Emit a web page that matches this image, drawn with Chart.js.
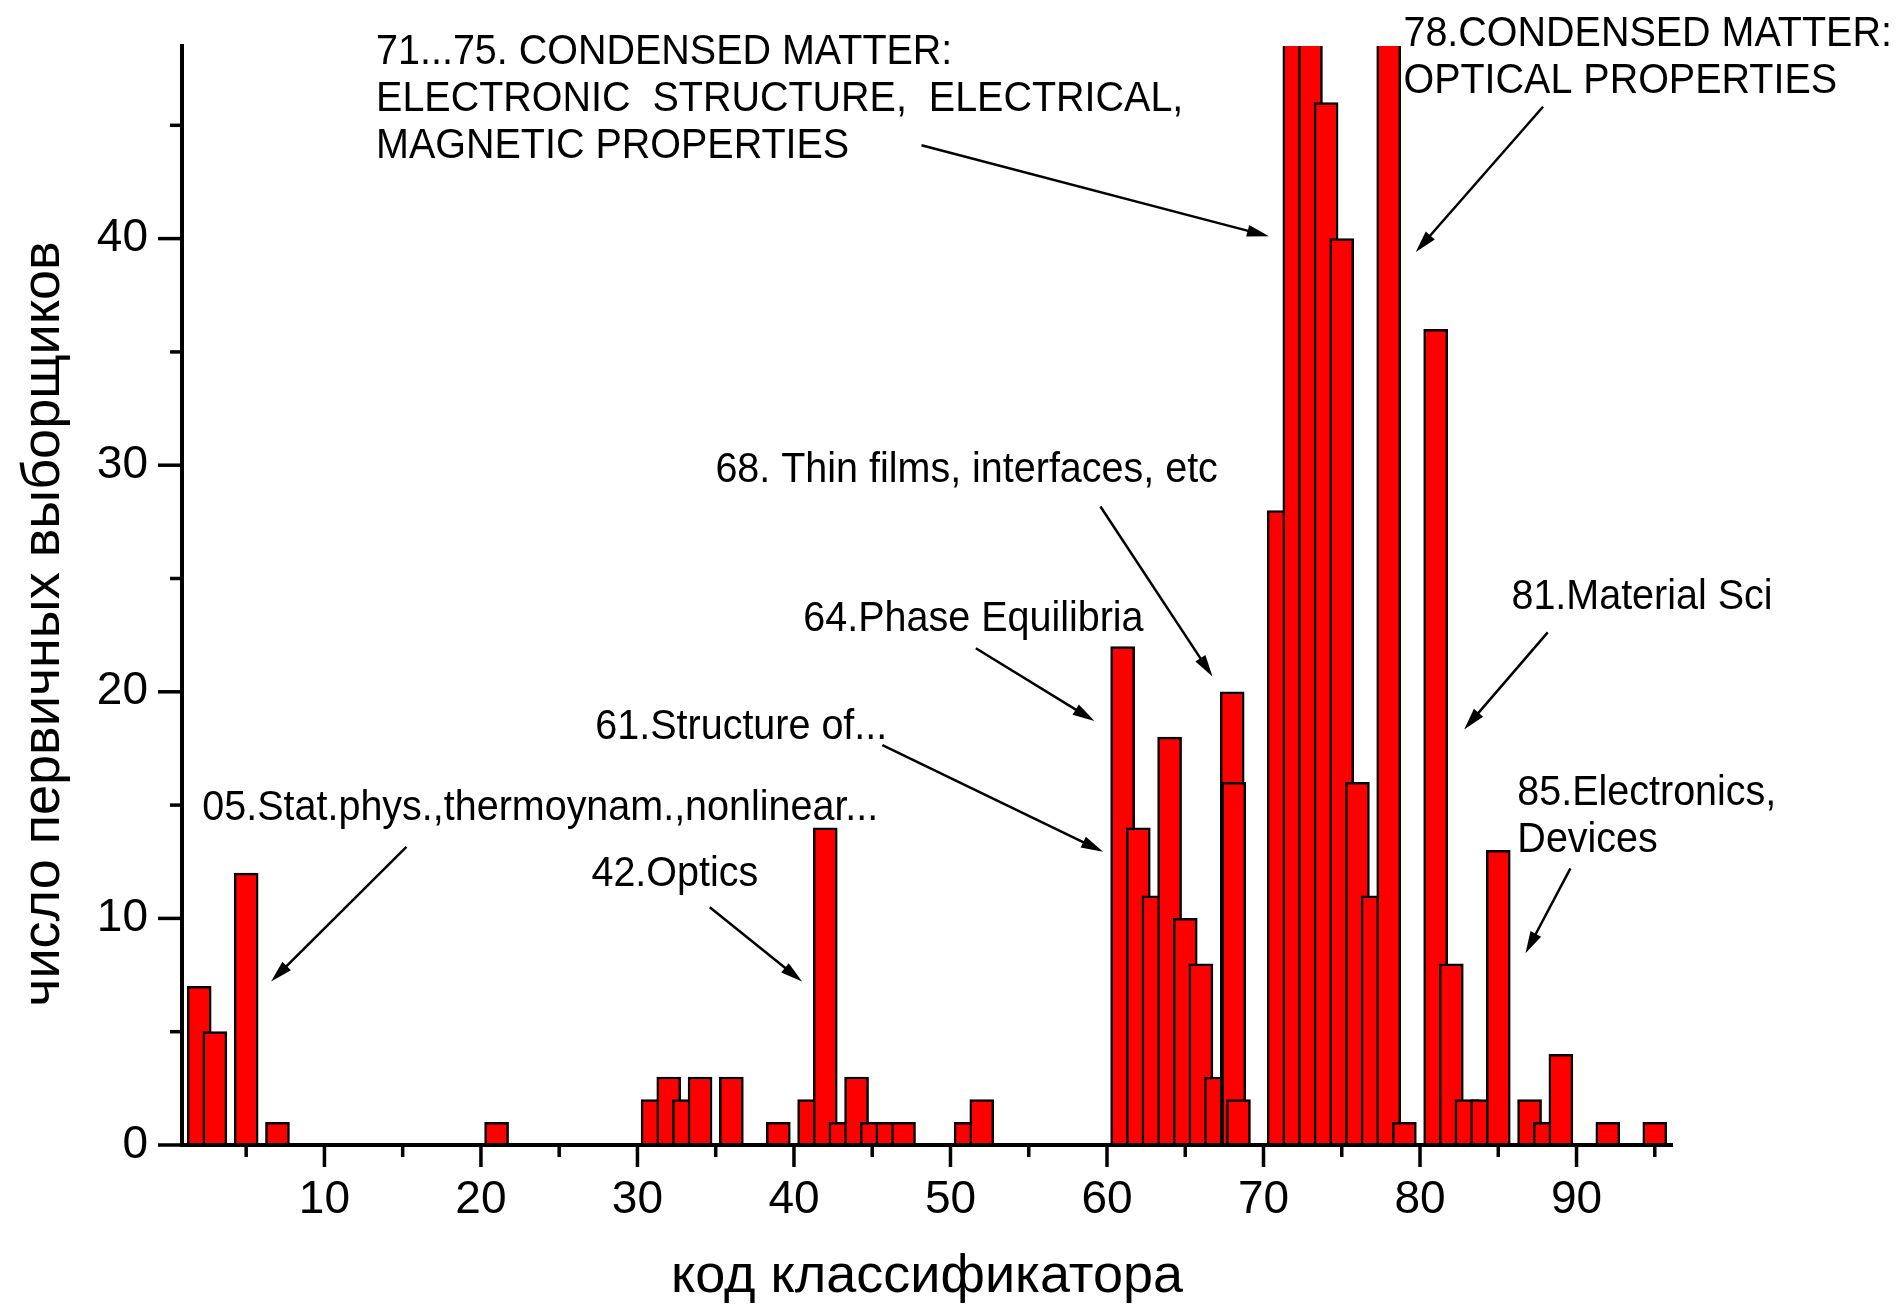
<!DOCTYPE html>
<html>
<head>
<meta charset="utf-8">
<script src="https://cdn.jsdelivr.net/npm/chart.js@4.4.1/dist/chart.umd.min.js"></script>
<style>
  html, body { margin: 0; padding: 0; background: #fff; }
  #wrap { width: 1900px; height: 1311px; position: relative; }
</style>
</head>
<body>
<div id="wrap"><canvas id="chart"></canvas></div>
<script>
// коды классификатора и число выборщиков
const codes = [2, 3, 5, 7, 21, 31, 32, 33, 34, 36, 39, 41, 42, 43, 44, 45, 46, 47, 51, 52,
  61, 62, 63, 64, 65, 66, 67, 68, 68.1, 68.4, 71, 72, 73, 74, 75, 76, 77, 78, 79,
  81, 82, 83, 84, 85, 87, 88, 89, 92, 95];
const counts = [7, 5, 12, 1, 1, 2, 3, 2, 3, 3, 1, 2, 14, 1, 3, 1, 1, 1, 1, 2,
  22, 14, 11, 18, 10, 8, 3, 20, 16, 2, 28, 56, 53, 46, 40, 16, 11, 52, 1,
  36, 8, 2, 2, 13, 2, 1, 4, 1, 1];

// деления осей
const xTickValues = [5, 10, 15, 20, 25, 30, 35, 40, 45, 50, 55, 60, 65, 70, 75, 80, 85, 90, 95];
const yTickValues = [0, 5, 10, 15, 20, 25, 30, 35, 40, 45];

const xTitle = 'код классификатора';
const yTitle = 'число первичных выборщиков';

// подписи со стрелками (в координатах данных)
const annotations = [
  { lines: ['71...75. CONDENSED MATTER:', 'ELECTRONIC  STRUCTURE,  ELECTRICAL,', 'MAGNETIC PROPERTIES'],
    x: 13.3, y: 48.2, from: [48.15, 44.12], to: [70.35, 40.1] },
  { lines: ['78.CONDENSED MATTER:', 'OPTICAL PROPERTIES'],
    x: 78.94, y: 49.0, from: [87.86, 45.82], to: [79.73, 39.41] },
  { lines: ['68. Thin films, interfaces, etc'], x: 34.98, y: 29.79, from: [59.58, 28.18], to: [66.74, 20.67] },
  { lines: ['64.Phase Equilibria'], x: 40.6, y: 23.21, from: [51.62, 21.92], to: [59.2, 18.71] },
  { lines: ['61.Structure of...'], x: 27.31, y: 18.45, from: [45.65, 17.65], to: [59.75, 12.94] },
  { lines: ['05.Stat.phys.,thermoynam.,nonlinear...'], x: 2.2, y: 14.87, from: [15.24, 13.16], to: [6.59, 7.21] },
  { lines: ['42.Optics'], x: 27.06, y: 11.92, from: [34.62, 10.49], to: [40.52, 7.21] },
  { lines: ['81.Material Sci'], x: 85.84, y: 24.18, from: [88.16, 22.62], to: [82.82, 18.34] },
  { lines: ['85.Electronics,', 'Devices'], x: 86.22, y: 15.51, from: [89.61, 12.21], to: [86.74, 8.46] }
];

const FONT = '"Liberation Sans", Arial, sans-serif';

function drawArrow(ctx, x1, y1, x2, y2) {
  const ang = Math.atan2(y2 - y1, x2 - x1);
  const len = 22, half = 6;
  ctx.beginPath();
  ctx.moveTo(x1, y1);
  ctx.lineTo(x2 - Math.cos(ang) * len * 0.8, y2 - Math.sin(ang) * len * 0.8);
  ctx.stroke();
  ctx.beginPath();
  ctx.moveTo(x2, y2);
  ctx.lineTo(x2 - Math.cos(ang) * len - Math.sin(ang) * half, y2 - Math.sin(ang) * len + Math.cos(ang) * half);
  ctx.lineTo(x2 - Math.cos(ang) * len + Math.sin(ang) * half, y2 - Math.sin(ang) * len - Math.cos(ang) * half);
  ctx.closePath();
  ctx.fill();
}

const overlay = {
  id: 'overlay',
  afterDraw(chart) {
    const ctx = chart.ctx;
    const xs = chart.scales.x, ys = chart.scales.y;
    ctx.save();
    ctx.strokeStyle = '#000';
    ctx.fillStyle = '#000';
    ctx.lineCap = 'butt';
    ctx.lineWidth = 3.5;
    // засечки
    xs.ticks.forEach(t => {
      const px = xs.getPixelForValue(t.value);
      const len = t.value % 10 === 0 ? 22 : 12;
      ctx.beginPath();
      ctx.moveTo(px, xs.top);
      ctx.lineTo(px, xs.top + len);
      ctx.stroke();
    });
    ys.ticks.forEach(t => {
      const py = ys.getPixelForValue(t.value);
      const len = t.value % 10 === 0 ? 24 : 12;
      ctx.beginPath();
      ctx.moveTo(ys.right, py);
      ctx.lineTo(ys.right - len, py);
      ctx.stroke();
    });

    // подпись оси Y
    ctx.save();
    ctx.font = '54px ' + FONT;
    ctx.textAlign = 'center';
    ctx.textBaseline = 'alphabetic';
    ctx.translate(59, 624);
    ctx.rotate(-Math.PI / 2);
    ctx.fillText(yTitle, 0, 0);
    ctx.restore();

    // аннотации (шрифт в оригинале чуть уже)
    ctx.font = '42px ' + FONT;
    ctx.textAlign = 'left';
    ctx.textBaseline = 'middle';
    ctx.lineWidth = 2.5;
    annotations.forEach(a => {
      const tx = xs.getPixelForValue(a.x);
      const ty = ys.getPixelForValue(a.y);
      ctx.save();
      ctx.translate(tx, ty);
      ctx.scale(0.94, 1);
      a.lines.forEach((line, i) => ctx.fillText(line, 0, i * 47));
      ctx.restore();
      drawArrow(ctx,
        xs.getPixelForValue(a.from[0]), ys.getPixelForValue(a.from[1]),
        xs.getPixelForValue(a.to[0]), ys.getPixelForValue(a.to[1]));
    });
    ctx.restore();
  }
};

new Chart(document.getElementById('chart'), {
  type: 'bar',
  data: {
    datasets: [{
      data: codes.map((c, i) => ({ x: c, y: counts[i] })),
      backgroundColor: '#ff0000',
      borderColor: '#000000',
      borderWidth: 2.5,
      barThickness: 24,
      clip: 0
    }]
  },
  options: {
    responsive: true,
    maintainAspectRatio: false,
    animation: false,
    layout: { padding: { left: 0, right: 228, top: 46, bottom: 0 } },
    plugins: { legend: { display: false }, tooltip: { enabled: false } },
    scales: {
      x: {
        type: 'linear',
        min: 0.9,
        max: 96.1,
        offset: false,
        afterBuildTicks: s => { s.ticks = xTickValues.map(v => ({ value: v })); },
        afterFit: s => { s.height = 166; },
        border: { display: true, color: '#000', width: 4, z: 1 },
        grid: { display: true, drawOnChartArea: false, drawTicks: true, tickLength: 22, color: 'rgba(0,0,0,0)' },
        ticks: {
          autoSkip: false, maxRotation: 0, padding: 6, color: '#000',
          font: { family: FONT, size: 46 },
          callback: v => (v % 10 === 0 ? String(v) : '')
        },
        title: { display: true, text: xTitle, color: '#000', font: { family: FONT, size: 54 }, padding: { top: 0, bottom: 1 } }
      },
      y: {
        min: 0,
        max: 48.5,
        afterBuildTicks: s => { s.ticks = yTickValues.map(v => ({ value: v })); },
        afterFit: s => { s.width = 182; },
        border: { display: true, color: '#000', width: 4, z: 1 },
        grid: { display: true, drawOnChartArea: false, drawTicks: true, tickLength: 24, color: 'rgba(0,0,0,0)' },
        ticks: {
          autoSkip: false, padding: 10, color: '#000',
          font: { family: FONT, size: 46 },
          callback: v => (v % 10 === 0 ? String(v) : '')
        }
      }
    }
  },
  plugins: [overlay]
});
</script>
</body>
</html>
